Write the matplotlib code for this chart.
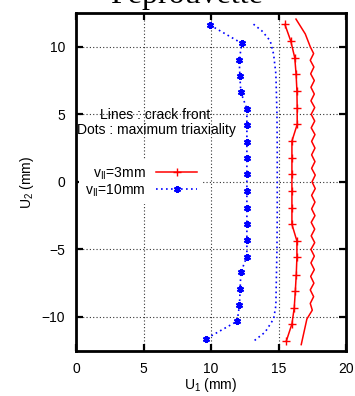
import matplotlib
matplotlib.use("Agg")
import matplotlib.pyplot as plt
from matplotlib.lines import Line2D

plt.rcParams['font.family'] = ['Liberation Sans', 'DejaVu Sans']
plt.rcParams['mathtext.fontset'] = 'custom'
plt.rcParams['mathtext.rm'] = 'Liberation Sans'
plt.rcParams['mathtext.it'] = 'Liberation Sans:italic'

title = "Peprouvette"
xlabel = "U$_1$ (mm)"
ylabel = "U$_2$ (mm)"
label_3 = "v$_{\\mathregular{II}}$=3mm"
label_10 = "v$_{\\mathregular{II}}$=10mm"
note_lines = "Lines : crack front"
note_dots = "Dots : maximum triaxiality"
xticks = [0, 5, 10, 15, 20]
yticks = [-10, -5, 0, 5, 10]

# maximum triaxiality, v=3mm
y_tri3 = [11.65, 10.44, 9.19, 7.96, 6.74, 5.48, 4.25, 3.02, 1.79, 0.56, -0.69, -1.92,
          -3.15, -4.38, -5.6, -6.88, -8.11, -9.34, -10.52, -11.8]
x_tri3 = [15.47, 15.9, 16.2, 16.3, 16.36, 16.38, 16.38, 15.99, 15.99, 15.99, 15.99, 15.99,
          15.99, 16.36, 16.36, 16.31, 16.24, 16.16, 15.99, 15.57]

# maximum triaxiality, v=10mm
y_tri10 = [11.6, 10.25, 9.02, 7.84, 6.64, 5.4, 4.2, 2.97, 1.74, 0.56, -0.69, -1.9,
           -3.1, -4.3, -5.53, -6.71, -7.94, -9.12, -10.32, -11.63]
x_tri10 = [9.93, 12.28, 12.08, 12.13, 12.2, 12.65, 12.65, 12.65, 12.65, 12.65, 12.65, 12.65,
           12.65, 12.65, 12.65, 12.2, 12.15, 12.1, 11.93, 9.6]

# crack front, v=3mm
y_cf3 = [12.05, 10.95, 10.0, 9.5, 9.0, 8.5, 8.0, 7.5, 7.0, 6.5, 6.0, 5.5, 5.0, 4.5, 4.0,
         3.5, 3.0, 2.5, 2.0, 1.5, 1.0, 0.5, 0.0, -0.5, -1.0, -1.5, -2.0, -2.5, -3.0, -3.5,
         -4.0, -4.5, -5.0, -5.5, -6.0, -6.5, -7.0, -7.5, -8.0, -8.5, -9.0, -9.5, -10.15, -12.05]
x_cf3 = [16.29, 16.98, 17.35, 17.6, 17.35, 17.62, 17.38, 17.65, 17.4, 17.65, 17.4, 17.68,
         17.42, 17.68, 17.42, 17.7, 17.45, 17.7, 17.45, 17.7, 17.45, 17.72, 17.48, 17.72,
         17.45, 17.7, 17.45, 17.7, 17.42, 17.68, 17.42, 17.68, 17.4, 17.65, 17.4, 17.65,
         17.38, 17.62, 17.35, 17.6, 17.35, 17.5, 17.1, 16.68]

# crack front, v=10mm
y_cf10 = [11.67, 11.18, 10.44, 9.46, 7.99, 5.04, 2.5, 0.0, -2.5, -5.0, -7.99, -9.17,
          -10.15, -11.13, -11.74]
x_cf10 = [13.14, 13.76, 14.38, 14.63, 14.8, 14.88, 14.9, 14.9, 14.9, 14.88, 14.82, 14.8,
          14.63, 14.0, 13.22]

W, H = 355, 396
fig = plt.figure(figsize=(W / 100, H / 100), dpi=100)
ax = fig.add_axes([76.3 / W, 1 - 350.7 / H, (346 - 76.3) / W, (350.7 - 13) / H])

red = '#ff0000'
blue = '#0000ff'
dot = (0, (1, 2))

ax.plot(x_cf3, y_cf3, color=red, lw=1.1, zorder=3)
ax.plot(x_tri3, y_tri3, color=red, lw=1.1, marker='+', ms=5.5, mew=1.0, zorder=3)
ax.plot(x_cf10, y_cf10, color=blue, lw=1.2, ls=dot, zorder=3)
ax.plot(x_tri10, y_tri10, color=blue, lw=1.2, ls=dot, marker=(6, 2, 0), ms=5, mew=1.5, zorder=3)

ax.set_xlim(0, 20)
ax.set_ylim(-12.5, 12.5)
ax.set_xticks(xticks)
ax.set_yticks(yticks)
ax.grid(True, color='#333333', ls=(0, (1, 2)), lw=0.8)
ax.set_axisbelow(True)
for s in ax.spines.values():
    s.set_linewidth(2.0)
ax.tick_params(direction='in', length=5, width=1.6, top=True, right=True,
               labelsize=10, pad=8)
ax.tick_params(axis='x', pad=8)

ax.set_xlabel(xlabel, fontsize=10, labelpad=0)
ax.set_ylabel(ylabel, fontsize=10, labelpad=4)

fig.text(186.5 / W, 1 - 3.5 / H, title, ha='center', va='baseline',
         fontsize=23, family=['Liberation Serif', 'DejaVu Serif'])

fig.text(155 / W, 1 - 115 / H, note_lines, ha='center', va='center', fontsize=10)
fig.text(156 / W, 1 - 130 / H, note_dots, ha='center', va='center', fontsize=10)

h3 = Line2D([], [], color=red, lw=1.1, marker='+', ms=5.5, mew=1.0)
h10 = Line2D([], [], color=blue, lw=1.2, ls=dot, marker=(6, 2, 0), ms=5, mew=1.5)
leg = ax.legend([h3, h10], [label_3, label_10], loc='center right',
                bbox_to_anchor=(203 / W, 1 - 182 / H), bbox_transform=fig.transFigure,
                markerfirst=False, numpoints=1, handlelength=2.95, handletextpad=0.8,
                labelspacing=0.05, borderpad=0.4, borderaxespad=0, fontsize=10,
                frameon=True, fancybox=False, framealpha=1, edgecolor='none',
                facecolor='white')
leg.set_zorder(2)

fig.savefig('out.png', dpi=100)
